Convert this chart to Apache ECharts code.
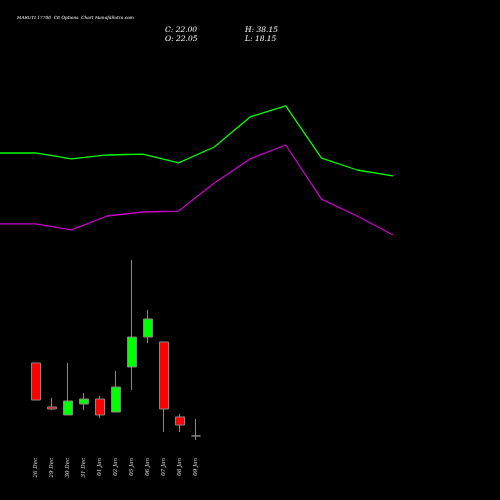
<!DOCTYPE html><html><head><meta charset="utf-8">
<script src="https://cdn.jsdelivr.net/npm/echarts@6/dist/echarts.min.js"></script>
<style>html,body{margin:0;background:#000}#c{width:500px;height:500px}</style></head><body><div id="c"></div>
<script>
const categories=['26 Dec','29 Dec','30 Dec','31 Dec','01 Jan','02 Jan','05 Jan','06 Jan','07 Jan','08 Jan','09 Jan'];
// [open, close, low, high]
const ohlc=[[91.5,56.2,56.2,91.5],[49.6,47.7,46.7,58.2],[42.0,55.3,42.0,91.5],[52.4,57.2,46.7,62.9],[57.2,42.0,39.1,60.1],[44.8,68.6,44.8,83.9],[87.7,116.2,65.8,189.6],[116.2,133.4,110.5,142.0],[111.5,47.7,25.8,111.5],[40.1,32.4,25.8,42.9],[22.05,22.00,18.15,38.15]];
const greenLine=[291.5,291.5,285.8,289.6,290.5,282.0,297.2,325.8,336.3,286.7,275.3,269.6];
const purpleLine=[223.9,223.9,218.2,231.5,235.3,236.2,262.9,285.8,299.1,247.6,231.5,213.4];
const lineX=greenLine.map((_,i)=>String(i));
const ch=echarts.init(document.getElementById('c'));
const ymin=3.86,ymax=437.2;
const f={color:'#fff',fontStyle:'italic',fontFamily:'DejaVu Serif',fontWeight:'normal'};
ch.setOption({backgroundColor:'#000',animation:false,
title:[{text:'MARUTI 17700  CE Options  Chart ManafaSutra.com',left:12,top:11,textStyle:Object.assign({fontSize:4.3},f)},
{text:'C: 22.00\nO: 22.05',left:160,top:21,textStyle:Object.assign({fontSize:7.5,lineHeight:9},f)},
{text:'H: 38.15\nL: 18.15',left:240,top:21,textStyle:Object.assign({fontSize:7.5,lineHeight:9},f)}],
grid:[{left:0,width:393,top:0,bottom:45},{left:28,width:176,top:0,bottom:45}],
xAxis:[{gridIndex:0,type:'category',data:lineX,boundaryGap:false,show:false},
{gridIndex:1,type:'category',data:categories,axisLine:{show:false},axisTick:{show:false},
axisLabel:Object.assign({rotate:90,fontSize:5.5,margin:3,interval:0,color:'#ddd'},{fontStyle:'italic',fontFamily:'DejaVu Serif'})}],
yAxis:[{gridIndex:0,type:'value',min:ymin,max:ymax,show:false},{gridIndex:1,type:'value',min:ymin,max:ymax,show:false}],
series:[{type:'line',xAxisIndex:0,yAxisIndex:0,data:greenLine,symbol:'none',lineStyle:{color:'#00ff00',width:1.3}},
{type:'line',xAxisIndex:0,yAxisIndex:0,data:purpleLine,symbol:'none',lineStyle:{color:'#cc00cc',width:1.3}},
{type:'candlestick',xAxisIndex:1,yAxisIndex:1,data:ohlc,barWidth:9,
itemStyle:{color:'#00ff00',color0:'#ff0000',borderColor:'#888',borderColor0:'#888',borderWidth:1}}]});
</script></body></html>
